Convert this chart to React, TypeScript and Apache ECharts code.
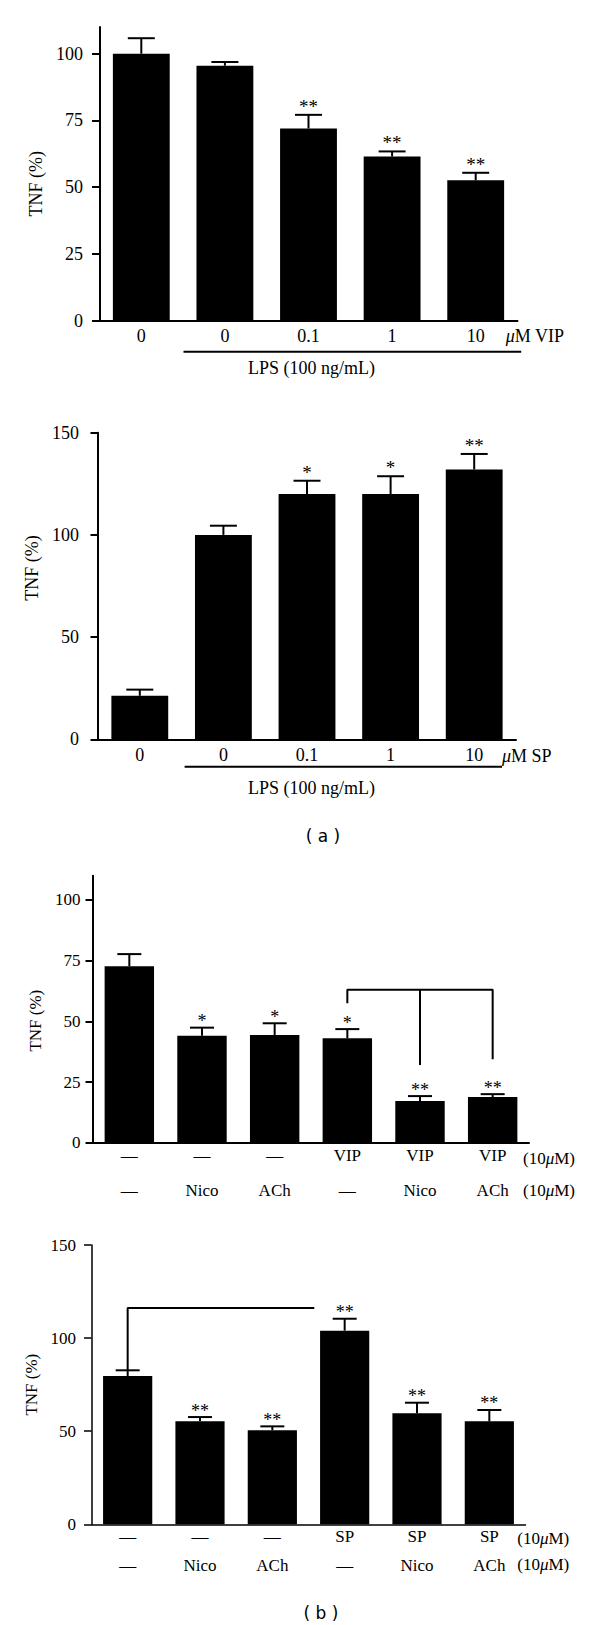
import React, { useEffect, useRef } from "react";
import * as echarts from "echarts";

// ---------- data ----------
const doseCats = ["0", "0", "0.1", "1", "10"];

const vipValues = [100, 95.5, 72, 61.5, 52.6];
const vipErrors = [5.8, 1.4, 5.1, 1.9, 2.8];
const vipSig = ["", "", "**", "**", "**"];

const spValues = [21.3, 100, 120, 120, 132];
const spErrors = [3.0, 4.5, 6.5, 8.7, 7.6];
const spSig = ["", "", "*", "*", "**"];

const row1VIP = ["—", "—", "—", "VIP", "VIP", "VIP"];
const row2Agonist = ["—", "Nico", "ACh", "—", "Nico", "ACh"];
const vipComboValues = [72.7, 44.1, 44.4, 43.0, 17.2, 18.8];
const vipComboErrors = [5.0, 3.3, 4.8, 3.8, 2.0, 1.2];
const vipComboSig = ["", "*", "*", "*", "**", "**"];

const row1SP = ["—", "—", "—", "SP", "SP", "SP"];
const spComboValues = [79.6, 55.3, 50.5, 104, 59.6, 55.3];
const spComboErrors = [3.1, 2.3, 2.1, 6.4, 5.7, 6.1];
const spComboSig = ["", "**", "**", "**", "**", "**"];

const yTicks110 = [0, 25, 50, 75, 100];
const yTicks150 = [0, 50, 100, 150];

// significance brackets (x = category index, y = TNF %)
const vipBracketOuter = [[3, 57.4], [3, 63], [5, 63], [5, 34.4]];
const vipBracketMid = [[4, 63], [4, 32]];
const spBracket = [[0, 82.7], [0, 116.2], [2.58, 116.2]];

const SERIF = '"Liberation Serif", "Times New Roman", serif';
const SANS = '"DejaVu Sans", Verdana, sans-serif';

function errorSeries(
  xAxisIndex: number,
  yAxisIndex: number,
  values: number[],
  errors: number[],
  sigs: string[],
  capW: number,
  sigGap: number,
  fontSize: number
) {
  return {
    type: "custom",
    xAxisIndex,
    yAxisIndex,
    z: 10,
    silent: true,
    data: values.map((v, i) => [i, v, v + errors[i]]),
    renderItem: (params: any, api: any) => {
      const i = api.value(0);
      const top = api.coord([i, api.value(2)]);
      const base = api.coord([i, api.value(1)]);
      const x = top[0];
      const children: any[] = [
        {
          type: "line",
          shape: { x1: x, y1: base[1], x2: x, y2: top[1] },
          style: { stroke: "#000", lineWidth: 2 },
        },
        {
          type: "line",
          shape: { x1: x - capW / 2, y1: top[1], x2: x + capW / 2, y2: top[1] },
          style: { stroke: "#000", lineWidth: 2 },
        },
      ];
      const s = sigs[params.dataIndex];
      if (s) {
        children.push({
          type: "text",
          x,
          y: top[1] - sigGap,
          style: {
            text: s,
            fill: "#000",
            fontSize,
            fontFamily: SERIF,
            align: "center",
            verticalAlign: "middle",
          },
        });
      }
      return { type: "group", children };
    },
  };
}

function yAxis(gridIndex: number, max: number, interval: number, ticks: number[], fontSize: number, margin: number, nameGap: number, namePad: number[], lw: number) {
  return {
    type: "value",
    gridIndex,
    min: 0,
    max,
    interval,
    name: "TNF (%)",
    nameLocation: "middle",
    nameGap,
    nameTextStyle: { fontFamily: SERIF, fontSize, color: "#000", padding: namePad },
    axisLine: { show: true, onZero: false, lineStyle: { color: "#000", width: lw } },
    axisTick: { show: true, length: 7.5, lineStyle: { color: "#000", width: lw }, customValues: ticks },
    axisLabel: { fontFamily: SERIF, fontSize, color: "#000", margin, customValues: ticks },
    splitLine: { show: false },
  };
}

function catAxis(gridIndex: number, data: string[], fontSize: number, margin: number, lw: number, offset = 0, showLine = true) {
  return {
    type: "category",
    gridIndex,
    data,
    position: "bottom",
    offset,
    axisLine: { show: showLine, onZero: false, lineStyle: { color: "#000", width: lw } },
    axisTick: { show: false },
    axisLabel: { fontFamily: SERIF, fontSize, color: "#000", margin, interval: 0 },
    splitLine: { show: false },
  };
}

function hiddenX(gridIndex: number, n: number) {
  return {
    type: "value",
    gridIndex,
    min: -0.5,
    max: n - 0.5,
    show: false,
    axisLine: { show: false, onZero: false },
    splitLine: { show: false },
  };
}

function barSeries(xAxisIndex: number, yAxisIndex: number, values: number[]) {
  return {
    type: "bar",
    xAxisIndex,
    yAxisIndex,
    data: values,
    barWidth: "68%",
    itemStyle: { color: "#000" },
    silent: true,
  };
}

function bracketSeries(xAxisIndex: number, yAxisIndex: number, data: number[][]) {
  return {
    type: "line",
    xAxisIndex,
    yAxisIndex,
    data,
    symbol: "none",
    silent: true,
    lineStyle: { color: "#000", width: 2 },
    z: 5,
  };
}

function txt(x: number, y: number, text: string, fontSize: number, align = "left", family = SERIF) {
  return {
    type: "text",
    x,
    y,
    silent: true,
    style: {
      text,
      fill: "#000",
      fontSize,
      fontFamily: family,
      align,
      verticalAlign: "middle",
      rich: { i: { fontStyle: "italic", fontSize, fontFamily: family, fill: "#000" } },
    },
  };
}

function hline(x1: number, x2: number, y: number) {
  return { type: "line", silent: true, shape: { x1, y1: y, x2, y2: y }, style: { stroke: "#000", lineWidth: 2 } };
}

export default function App() {
  const ref = useRef<HTMLDivElement>(null);
  useEffect(() => {
    if (!ref.current) return;
    const chart = echarts.init(ref.current, null, { renderer: "svg" });
    chart.setOption({
      animation: false,
      backgroundColor: "#fff",
      grid: [
        { left: 99.5, top: 27, width: 418, height: 293.7 },
        { left: 98, top: 432.7, width: 418, height: 306.6 },
        { left: 93, top: 875.7, width: 436, height: 267 },
        { left: 91.5, top: 1245, width: 434, height: 279.3 },
      ],
      xAxis: [
        catAxis(0, doseCats, 18, 6, 2), // 0
        catAxis(1, doseCats, 18, 7, 2), // 1
        catAxis(2, row1VIP, 17, 4, 2), // 2
        catAxis(2, row2Agonist, 17, 4, 2, 35.7, false), // 3
        hiddenX(2, 6), // 4
        catAxis(3, row1SP, 17, 4, 1.5), // 5
        catAxis(3, row2Agonist, 17, 4, 1.5, 28.3, false), // 6
        hiddenX(3, 6), // 7
      ],
      yAxis: [
        yAxis(0, 110, 25, yTicks110, 18, 16.5, 47.5, [0, 20, 0, 0], 2),
        yAxis(1, 150, 50, yTicks150, 18, 19, 52.5, [0, 0, 0, 36], 2),
        yAxis(2, 110, 25, yTicks110, 17, 12.4, 43, [0, 23, 0, 0], 2),
        yAxis(3, 150, 50, yTicks150, 17, 15.4, 46, [0, 0, 0, 0], 1.5),
      ],
      series: [
        barSeries(0, 0, vipValues),
        errorSeries(0, 0, vipValues, vipErrors, vipSig, 27, 8.5, 19),
        barSeries(1, 1, spValues),
        errorSeries(1, 1, spValues, spErrors, spSig, 27, 8.5, 19),
        barSeries(2, 2, vipComboValues),
        errorSeries(2, 2, vipComboValues, vipComboErrors, vipComboSig, 24, 6.5, 18),
        bracketSeries(4, 2, vipBracketOuter),
        bracketSeries(4, 2, vipBracketMid),
        barSeries(5, 3, spComboValues),
        errorSeries(5, 3, spComboValues, spComboErrors, spComboSig, 24, 6.5, 18),
        bracketSeries(7, 3, spBracket),
      ],
      graphic: [
        txt(505.8, 336, "{i|μ}M VIP", 18),
        hline(183.5, 521.2, 351.7),
        txt(311.5, 368, "LPS (100 ng/mL)", 18, "center"),
        txt(502, 756, "{i|μ}M SP", 18),
        hline(184.6, 502, 766.7),
        txt(311.5, 788, "LPS (100 ng/mL)", 18, "center"),
        txt(323, 836, "( a )", 17, "center", SANS),
        txt(523, 1158, "(10{i|μ}M)", 17),
        txt(523, 1190.7, "(10{i|μ}M)", 17),
        txt(517.3, 1538, "(10{i|μ}M)", 17),
        txt(517.3, 1564, "(10{i|μ}M)", 17),
        txt(321, 1613, "( b )", 17, "center", SANS),
      ],
    });
    return () => chart.dispose();
  }, []);
  return (
    <div
      ref={ref}
      style={{ position: "absolute", left: 0, top: 0, width: 600, height: 1625, background: "#fff" }}
    />
  );
}
